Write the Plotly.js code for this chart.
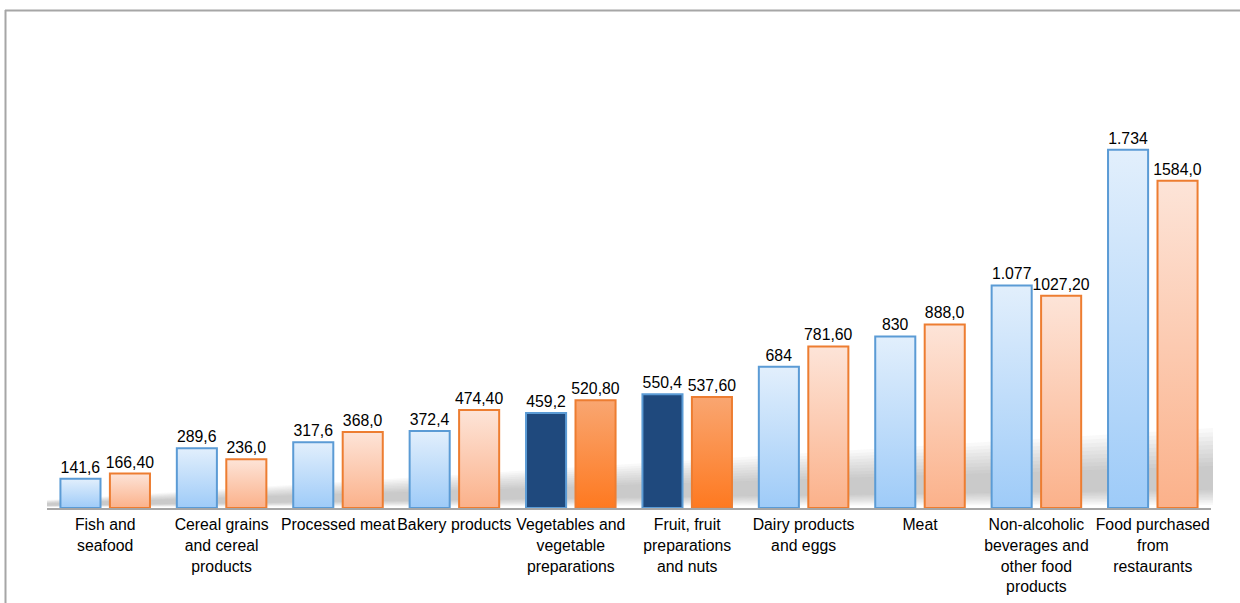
<!DOCTYPE html>
<html>
<head>
<meta charset="utf-8">
<script src="https://cdn.plot.ly/plotly-3.0.1.min.js"></script>
<style>
  html, body { margin: 0; padding: 0; background: #ffffff; }
  #chart { width: 1240px; height: 603px; }
</style>
</head>
<body>
<div id="chart"></div>
<script>
// ---- data ----
const categories = [
  'Fish and<br>seafood',
  'Cereal grains<br>and cereal<br>products',
  'Processed meat',
  'Bakery products',
  'Vegetables and<br>vegetable<br>preparations',
  'Fruit, fruit<br>preparations<br>and nuts',
  'Dairy products<br>and eggs',
  'Meat',
  'Non-alcoholic<br>beverages and<br>other food<br>products',
  'Food purchased<br>from<br>restaurants'
];
const blueValues   = [141.6, 289.6, 317.6, 372.4, 459.2, 550.4, 684, 830, 1077, 1734];
const blueLabels   = ['141,6', '289,6', '317,6', '372,4', '459,2', '550,4', '684', '830', '1.077', '1.734'];
const orangeValues = [166.4, 236.0, 368.0, 474.4, 520.8, 537.6, 781.6, 888.0, 1027.2, 1584.0];
const orangeLabels = ['166,40', '236,0', '368,0', '474,40', '520,80', '537,60', '781,60', '888,0', '1027,20', '1584,0'];

// ---- style ----
const highlightIdx = [4, 5];
const FONT = 'Liberation Sans, Arial, sans-serif';
const W = 1240, H = 603;
const M = { l: 47, r: 29, t: 30, b: 95 };
const plotW = W - M.l - M.r, plotH = H - M.t - M.b;

// pixel -> paper helpers for decorative shapes
const px = x => (x - M.l) / plotW;
const py = y => (H - M.b - y) / plotH;

const blueFill = blueValues.map((v, i) => highlightIdx.includes(i) ? '#1f497d' : '#bcdcfa');
const orangeFill = orangeValues.map((v, i) => highlightIdx.includes(i) ? '#fc8c45' : '#fcccb3');

const traces = [
  {
    type: 'bar', x: categories, y: blueValues, text: blueLabels,
    textposition: 'outside', constraintext: 'none', cliponaxis: false,
    textfont: { family: FONT, size: 15.8, color: '#000000' },
    marker: { color: blueFill, line: { color: '#5b9bd5', width: 2 } },
    hoverinfo: 'skip', showlegend: false
  },
  {
    type: 'bar', x: categories, y: orangeValues, text: orangeLabels,
    textposition: 'outside', constraintext: 'none', cliponaxis: false,
    textfont: { family: FONT, size: 15.8, color: '#000000' },
    marker: { color: orangeFill, line: { color: '#ed7d31', width: 2 } },
    hoverinfo: 'skip', showlegend: false
  }
];

// soft floor shadow behind the bars, built from stacked translucent bands
const shapes = [];
const x0 = 47, x1 = 1213;
const topL = 500, topR = 428, botL = 507, botR = 505;
const layers = 10;
for (let k = 0; k < layers; k++) {
  const f = k / layers * 0.55;
  const tL = topL + (botL - topL) * f, tR = topR + (botR - topR) * f;
  const bL = botL - (botL - topL) * f * 0.4, bR = botR - (botR - topR) * f * 0.4;
  shapes.push({
    type: 'path', xref: 'paper', yref: 'paper', layer: 'below',
    path: `M ${px(x0)} ${py(bL)} L ${px(x0)} ${py(tL)} L ${px(x1)} ${py(tR)} L ${px(x1)} ${py(bR)} Z`,
    fillcolor: '#707070', opacity: 0.042, line: { width: 0 }
  });
}
// outer frame
shapes.push({
  type: 'line', xref: 'paper', yref: 'paper',
  x0: px(5), x1: px(1245), y0: py(10.5), y1: py(10.5),
  line: { color: '#a6a6a6', width: 2 }
});
shapes.push({
  type: 'line', xref: 'paper', yref: 'paper',
  x0: px(5.5), x1: px(5.5), y0: py(10), y1: py(610),
  line: { color: '#a6a6a6', width: 2 }
});

const layout = {
  width: W, height: H,
  margin: M,
  paper_bgcolor: '#ffffff', plot_bgcolor: 'rgba(0,0,0,0)',
  barmode: 'group', bargap: 0.15, bargroupgap: 0.19,
  font: { family: FONT, size: 15, color: '#000000' },
  xaxis: {
    type: 'category', showgrid: false, zeroline: false,
    showline: true, linecolor: '#a6a6a6', linewidth: 1.5,
    ticks: '', tickangle: 0, ticklabelstandoff: 2,
    tickfont: { family: FONT, size: 15.8, color: '#000000' },
    fixedrange: true
  },
  yaxis: { visible: false, range: [0, 2313], fixedrange: true },
  shapes: shapes
};

Plotly.newPlot('chart', traces, layout, { displayModeBar: false, staticPlot: true }).then(gd => {
  // vertical gradient fills for the bars
  const svg = gd.querySelector('svg.main-svg');
  const NS = 'http://www.w3.org/2000/svg';
  let defs = svg.querySelector('defs');
  if (!defs) { defs = document.createElementNS(NS, 'defs'); svg.insertBefore(defs, svg.firstChild); }
  const grads = {
    gBlue:   ['#e2effc', '#9ecbf8'],
    gOrange: ['#fde4d8', '#fbb18a'],
    gOrangeHi: ['#f9a671', '#fe7920']
  };
  Object.entries(grads).forEach(([id, [c0, c1]]) => {
    const g = document.createElementNS(NS, 'linearGradient');
    g.setAttribute('id', id);
    g.setAttribute('x1', '0'); g.setAttribute('y1', '0');
    g.setAttribute('x2', '0'); g.setAttribute('y2', '1');
    [[0, c0], [1, c1]].forEach(([o, c]) => {
      const s = document.createElementNS(NS, 'stop');
      s.setAttribute('offset', o);
      s.setAttribute('stop-color', c);
      g.appendChild(s);
    });
    defs.appendChild(g);
  });
  const barTraces = gd.querySelectorAll('.barlayer .trace');
  barTraces.forEach((tr, ti) => {
    tr.querySelectorAll('.point').forEach((pt, i) => {
      const path = pt.querySelector('path');
      if (!path) return;
      const hi = highlightIdx.includes(i);
      let id = null;
      if (ti === 0 && !hi) id = 'gBlue';
      if (ti === 1) id = hi ? 'gOrangeHi' : 'gOrange';
      if (id) path.style.fill = `url(#${id})`;
    });
  });
});
</script>
</body>
</html>
